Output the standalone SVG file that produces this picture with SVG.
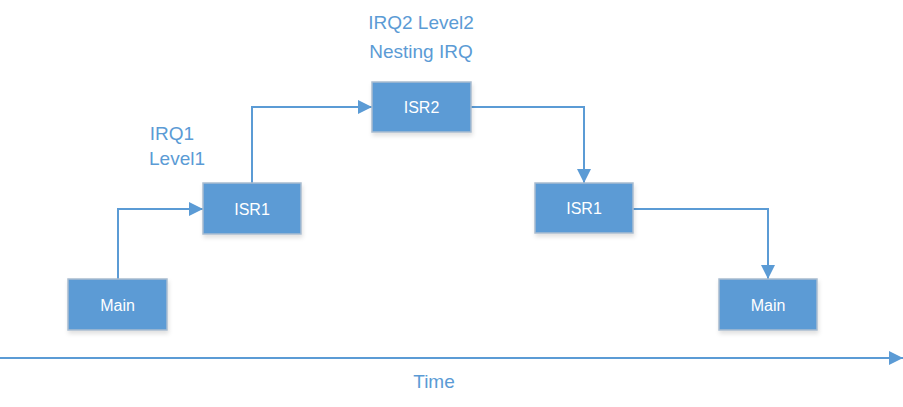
<svg xmlns="http://www.w3.org/2000/svg" width="903" height="407" viewBox="0 0 903 407">
<style>
.box{fill:#5B9BD5;stroke:#A9BCD0;stroke-width:1.5}
.bt{font-family:"Liberation Sans",Arial,sans-serif;font-size:16px;fill:#FFFFFF;text-anchor:middle}
.lb{font-family:"Liberation Sans",Arial,sans-serif;font-size:19px;fill:#5B9BD5;text-anchor:middle}
.cn{fill:none;stroke:#5B9BD5;stroke-width:2}
</style>
<defs>
<marker id="ah2" viewBox="0 0 10 10" refX="10" refY="5" markerWidth="14" markerHeight="14" orient="auto" markerUnits="userSpaceOnUse">
<path d="M0,0 L10,5 L0,10 z" fill="#5B9BD5"/>
</marker>
<filter id="sh" x="-10%" y="-10%" width="130%" height="140%">
<feDropShadow dx="1" dy="3" stdDeviation="2" flood-color="#000" flood-opacity="0.12"/>
</filter>
</defs>
<g id="connectors">
<path class="cn" d="M118,279 V209 H203" marker-end="url(#ah2)"/>
<path class="cn" d="M252,183 V107 H372" marker-end="url(#ah2)"/>
<path class="cn" d="M471,107 H584 V183" marker-end="url(#ah2)"/>
<path class="cn" d="M633,209 H768 V279" marker-end="url(#ah2)"/>
<path class="cn" d="M0,358 H903" marker-end="url(#ah2)"/>
</g>
<g id="main1"><rect class="box" filter="url(#sh)" x="68" y="279" width="99" height="51"/><text class="bt" x="117.5" y="311">Main</text></g>
<g id="isr1a"><rect class="box" filter="url(#sh)" x="203" y="183" width="98" height="51"/><text class="bt" x="252" y="215">ISR1</text></g>
<g id="isr2"><rect class="box" filter="url(#sh)" x="372" y="82" width="99" height="50"/><text class="bt" x="421.5" y="113">ISR2</text></g>
<g id="isr1b"><rect class="box" filter="url(#sh)" x="535" y="183" width="98" height="50"/><text class="bt" x="584" y="214">ISR1</text></g>
<g id="main2"><rect class="box" filter="url(#sh)" x="719" y="279" width="98" height="51"/><text class="bt" x="768" y="311">Main</text></g>
<g id="labels">
<text class="lb" x="172" y="140">IRQ1</text>
<text class="lb" x="177" y="165">Level1</text>
<text class="lb" x="421" y="29">IRQ2 Level2</text>
<text class="lb" x="421" y="58">Nesting IRQ</text>
<text class="lb" x="434" y="388">Time</text>
</g>
</svg>
